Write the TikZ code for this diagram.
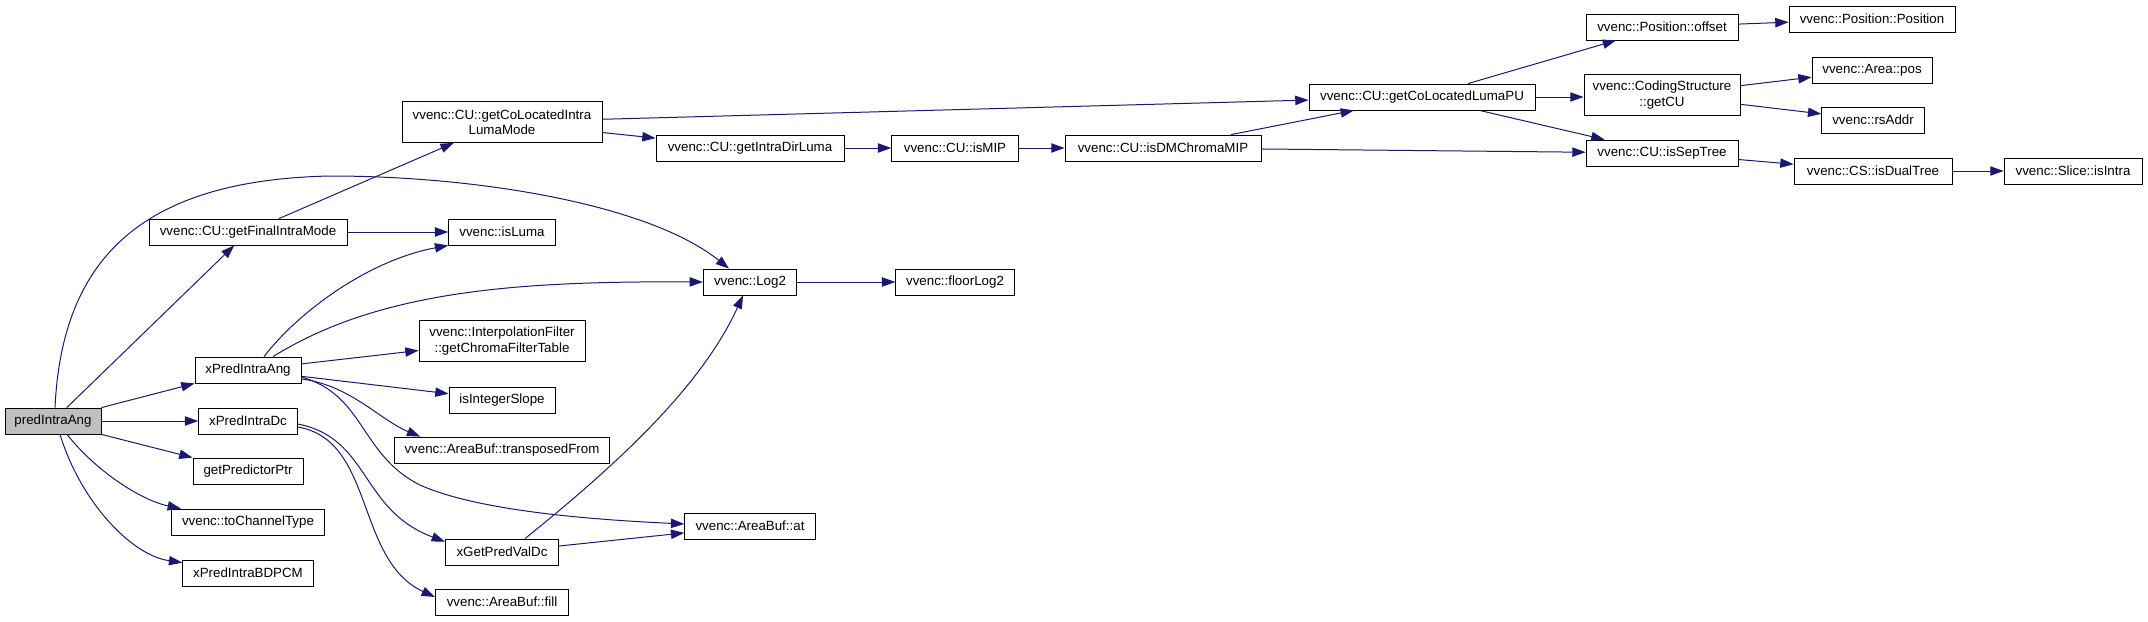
\documentclass[tikz,border=0pt]{standalone}
\usepackage{fontspec}
\setmainfont{Liberation Sans}
\usetikzlibrary{arrows.meta,calc}
\definecolor{cgedge}{RGB}{25,25,112}
\definecolor{cgroot}{RGB}{191,191,191}
\tikzset{
  fn/.style={draw=black, line width=0.6pt, fill=white, font=\fontsize{10}{11.5}\selectfont, inner sep=1pt, align=center, minimum height=19.5pt},
  fn2/.style={fn, minimum height=30.75pt},
  call/.style={-{Triangle[length=10pt,width=7pt]}, draw=cgedge, line width=0.75pt}
}

\begin{document}
\begin{tikzpicture}[x=0.75pt, y=-0.75pt]
  \useasboundingbox (0,0) rectangle (2148,621);

  %% Caller
  \node[fn, fill=cgroot, minimum width=72pt] (pia) at (53,421) {predIntraAng};

  %% First level
  \node[fn, minimum width=148.5pt] (gfim) at (248,232) {vvenc::CU::getFinalIntraMode};
  \node[fn, minimum width=79.5pt] (xpia) at (248,370) {xPredIntraAng};
  \node[fn, minimum width=74pt] (xpidc) at (248,421) {xPredIntraDc};
  \node[fn, minimum width=82.5pt] (predptr) at (248,471) {getPredictorPtr};
  \node[fn, minimum width=115pt] (chtype) at (248,522) {vvenc::toChannelType};
  \node[fn, minimum width=98pt] (bdpcm) at (248,573) {xPredIntraBDPCM};

  %% Second level
  \node[fn2, minimum width=150pt] (colintra) at (502,122) {vvenc::CU::getCoLocatedIntra\\LumaMode};
  \node[fn, minimum width=80pt] (isluma) at (502,232) {vvenc::isLuma};
  \node[fn2, minimum width=124.5pt] (ifilt) at (502,341) {vvenc::InterpolationFilter\\::getChromaFilterTable};
  \node[fn, minimum width=79.5pt] (intslope) at (502,400) {isIntegerSlope};
  \node[fn, minimum width=161pt] (transp) at (502,450) {vvenc::AreaBuf::transposedFrom};
  \node[fn, minimum width=85pt] (predval) at (502,552) {xGetPredValDc};
  \node[fn, minimum width=100pt] (buffill) at (502,602) {vvenc::AreaBuf::fill};

  %% Third and fourth level
  \node[fn, minimum width=141pt] (dirluma) at (750,148) {vvenc::CU::getIntraDirLuma};
  \node[fn, minimum width=70pt] (log) at (750,282) {vvenc::Log2};
  \node[fn, minimum width=98pt] (bufat) at (750,526) {vvenc::AreaBuf::at};
  \node[fn, minimum width=95pt] (ismip) at (955,148) {vvenc::CU::isMIP};
  \node[fn, minimum width=89pt] (floorlog) at (955,282) {vvenc::floorLog2};

  %% Right part
  \node[fn, minimum width=147pt] (dmchroma) at (1163,148) {vvenc::CU::isDMChromaMIP};
  \node[fn, minimum width=169.5pt] (colluma) at (1422,97) {vvenc::CU::getCoLocatedLumaPU};
  \node[fn, minimum width=114pt] (posoff) at (1662,27) {vvenc::Position::offset};
  \node[fn2, minimum width=117pt] (getcu) at (1662,95) {vvenc::CodingStructure\\::getCU};
  \node[fn, minimum width=114pt] (septree) at (1662,153) {vvenc::CU::isSepTree};
  \node[fn, minimum width=124.5pt] (poscons) at (1872,19) {vvenc::Position::Position};
  \node[fn, minimum width=90pt] (areapos) at (1872,70) {vvenc::Area::pos};
  \node[fn, minimum width=77pt] (rsaddr) at (1873,120) {vvenc::rsAddr};
  \node[fn, minimum width=118.5pt] (dualtree) at (1873,171) {vvenc::CS::isDualTree};
  \node[fn, minimum width=103.5pt] (isintra) at (2073,171) {vvenc::Slice::isIntra};

  %% Calls from predIntraAng
  \draw[call] (pia) -- (gfim);
  \draw[call] ($(pia.north)+(2,0)$) .. controls (62,260) and (140,180) .. (330,176) .. controls (480,176) and (650,205) .. ($(log.north)+(-21,0)$);
  \draw[call] (pia.north east) -- (xpia.south west);
  \draw[call] (pia) -- (xpidc);
  \draw[call] (pia.south east) -- (predptr.north west);
  \draw[call] ($(pia.south)+(14,0)$) .. controls (95,470) and (140,500) .. ($(chtype.north west)+(10,0)$);
  \draw[call] ($(pia.south)+(7,0)$) .. controls (80,500) and (130,555) .. ($(bdpcm.north west)+(0,3)$);

  %% getFinalIntraMode branch
  \draw[call] (gfim) -- (colintra);
  \draw[call] (gfim) -- (isluma);
  \draw[call] (colintra) -- (colluma);
  \draw[call] (colintra) -- (dirluma);
  \draw[call] (dirluma) -- (ismip);
  \draw[call] (ismip) -- (dmchroma);
  \draw[call] (dmchroma) -- (colluma);
  \draw[call] (dmchroma) -- (septree);
  \draw[call] (colluma) -- (posoff);
  \draw[call] (colluma.east) -- (colluma.east -| getcu.west);
  \draw[call] (colluma) -- (septree);
  \draw[call] (posoff) -- (poscons);
  \draw[call] (getcu) -- (areapos);
  \draw[call] (getcu) -- (rsaddr);
  \draw[call] (septree) -- (dualtree);
  \draw[call] (dualtree) -- (isintra);

  %% xPredIntraAng branch
  \draw[call] ($(xpia.north)+(16,0)$) .. controls (300,310) and (370,260) .. (isluma.south west);
  \draw[call] ($(xpia.north)+(25,0)$) .. controls (380,290) and (520,281) .. (log.west);
  \draw[call] (xpia) -- (ifilt);
  \draw[call] (xpia) -- (intslope);
  \draw[call] ($(xpia.east)+(0,9)$) .. controls (350,385) and (380,420) .. ($(transp.north west)+(26,0)$);
  \draw[call] ($(xpia.east)+(0,7)$) .. controls (365,395) and (360,455) .. (420,485) .. controls (480,512) and (600,520) .. ($(bufat.west)+(0,-2)$);

  %% xPredIntraDc branch
  \draw[call] ($(xpidc.east)+(0,3)$) .. controls (370,438) and (360,510) .. ($(predval.north west)+(0,3)$);
  \draw[call] ($(xpidc.east)+(0,6)$) .. controls (375,440) and (355,560) .. ($(buffill.west)+(0,-5)$);
  \draw[call] ($(predval.north)+(23,0)$) .. controls (610,470) and (700,390) .. ($(log.south)+(-7,0)$);
  \draw[call] (predval) -- (bufat);
  \draw[call] (log) -- (floorlog);
\end{tikzpicture}
\end{document}
